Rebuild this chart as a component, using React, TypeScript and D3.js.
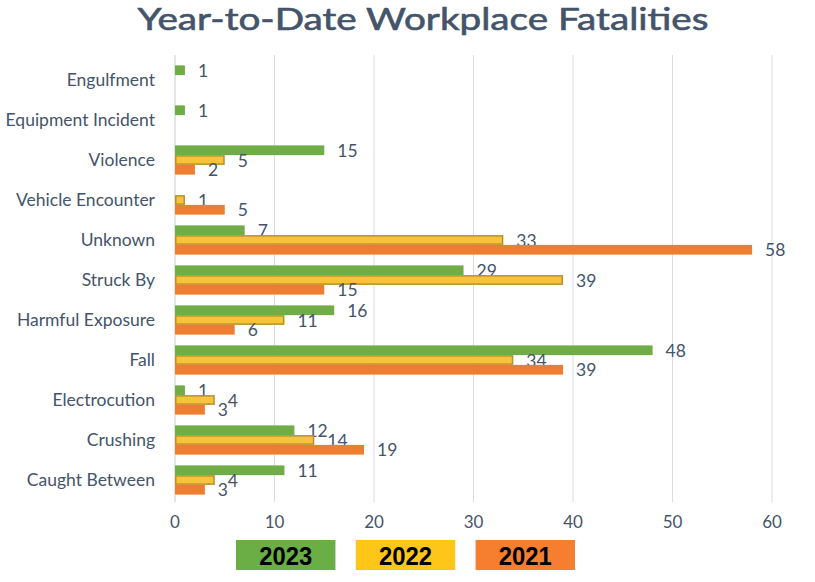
import React from "react";
import * as d3 from "d3";

const categories = [
  "Engulfment",
  "Equipment Incident",
  "Violence",
  "Vehicle Encounter",
  "Unknown",
  "Struck By",
  "Harmful Exposure",
  "Fall",
  "Electrocution",
  "Crushing",
  "Caught Between",
];
const series = ["2023", "2022", "2021"];
const values2023: (number | null)[] = [1, 1, 15, null, 7, 29, 16, 48, 1, 12, 11];
const values2022: (number | null)[] = [null, null, 5, 1, 33, 39, 11, 34, 4, 14, 4];
const values2021: (number | null)[] = [null, null, 2, 5, 58, 15, 6, 39, 3, 19, 3];
const xTicks = [0, 10, 20, 30, 40, 50, 60];

const seriesValues = [values2023, values2022, values2021];
const fills = ["#70AD47", "#F8C23A", "#ED7D31"];
const strokes = ["none", "#B8902A", "none"];
const legendFills = ["#6AAE45", "#FFC61A", "#F57E2F"];

export default function App() {
  const W = 815;
  const H = 582;
  const left = 175;
  const right = 772;
  const top = 60;
  const bottom = 500;
  const x = d3.scaleLinear().domain([0, 60]).range([left, right]);
  const y = d3.scaleBand().domain(categories).range([top, bottom]).paddingInner(0.27).paddingOuter(0.135);
  const inner = d3.scaleBand().domain(series).range([0, y.bandwidth()]);
  const textColor = "#44546A";
  const font = "Lato, 'Open Sans', sans-serif";
  const legendX = d3.scaleBand().domain(series).range([236, 575]).paddingInner(0.17);

  return (
    <svg width={W} height={H} style={{ position: "absolute", left: 0, top: 0, background: "#fff" }}>
      <rect width={W} height={H} fill="#fff" />
      <text x={423} y={30} textAnchor="middle" fontFamily={font} fontSize={30} fill={textColor} stroke={textColor} strokeWidth={0.6} textLength={571} lengthAdjust="spacingAndGlyphs">
        Year-to-Date Workplace Fatalities
      </text>
      {xTicks.slice(1).map((t) => (
        <line key={t} x1={x(t)} x2={x(t)} y1={top - 5} y2={bottom + 2} stroke="#D9DCE3" strokeWidth={1} />
      ))}
      <line x1={x(0)} x2={x(0)} y1={top - 5} y2={bottom + 2} stroke="#CFD3DA" strokeWidth={1.2} />
      {xTicks.map((t) => (
        <text key={t} x={x(t)} y={528} textAnchor="middle" fontFamily={font} fontSize={17} fill={textColor}>
          {t}
        </text>
      ))}
      {categories.map((c) => (
        <text key={c} x={155} y={(y(c) as number) + y.bandwidth() / 2 + 6} textAnchor="end" fontFamily={font} fontSize={17.5} fill={textColor}>
          {c}
        </text>
      ))}
      {series.map((s, si) =>
        categories.map((c, ci) => {
          const v = seriesValues[si][ci];
          if (v == null) return null;
          const by = (y(c) as number) + (inner(s) as number);
          const bh = inner.bandwidth();
          const inset = si === 1 ? 0.75 : 0;
          return (
            <g key={s + c}>
              <rect
                x={x(0) + inset}
                y={by + inset}
                width={x(v) - x(0) - inset * 2}
                height={bh - inset * 2}
                fill={fills[si]}
                stroke={strokes[si]}
                strokeWidth={si === 1 ? 1.5 : 0}
              />
              <text x={x(v) + 13} y={by + bh / 2 + 6.5} fontFamily={font} fontSize={17.5} fill={textColor}>
                {v}
              </text>
            </g>
          );
        })
      )}
      {series.map((s, si) => (
        <g key={"lg" + s}>
          <rect x={legendX(s)} y={540} width={legendX.bandwidth()} height={30} fill={legendFills[si]} />
          <text x={(legendX(s) as number) + legendX.bandwidth() / 2} y={565} textAnchor="middle" fontFamily="'Liberation Sans', Arial, sans-serif" fontWeight="bold" fontSize={26} fill="#000" textLength={53} lengthAdjust="spacingAndGlyphs">
            {s}
          </text>
        </g>
      ))}
    </svg>
  );
}
